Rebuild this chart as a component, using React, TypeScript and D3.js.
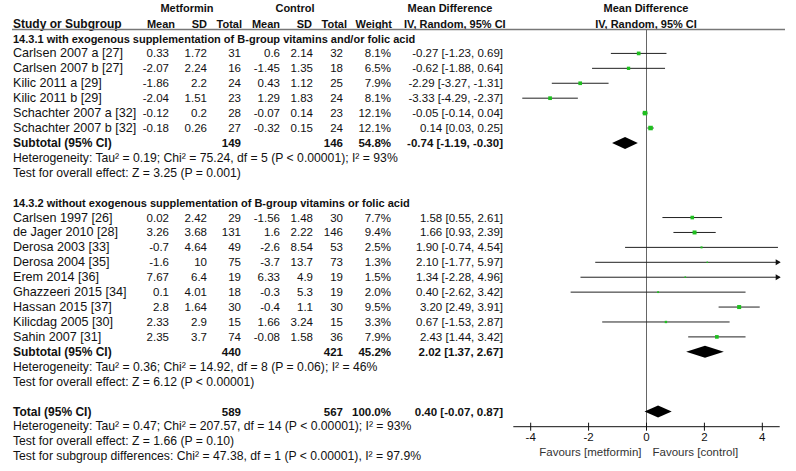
import React, { useRef, useEffect } from 'react';
import * as d3 from 'd3';

// group 1: with exogenous supplementation
const names1 = ['Carlsen 2007 a [27]', 'Carlsen 2007 b [27]', 'Kilic 2011 a [29]', 'Kilic 2011 b [29]', 'Schachter  2007 a [32]', 'Schachter 2007 b [32]'];
const metMean1 = ['0.33', '-2.07', '-1.86', '-2.04', '-0.12', '-0.18'];
const metSd1 = ['1.72', '2.24', '2.2', '1.51', '0.2', '0.26'];
const metN1 = [31, 16, 24, 23, 28, 27];
const conMean1 = ['0.6', '-1.45', '0.43', '1.29', '-0.07', '-0.32'];
const conSd1 = ['2.14', '1.35', '1.12', '1.83', '0.14', '0.15'];
const conN1 = [32, 18, 25, 24, 23, 24];
const weight1 = [8.1, 6.5, 7.9, 8.1, 12.1, 12.1];
const md1 = [-0.27, -0.62, -2.29, -3.33, -0.05, 0.14];
const lo1 = [-1.23, -1.88, -3.27, -4.29, -0.14, 0.03];
const hi1 = [0.69, 0.64, -1.31, -2.37, 0.04, 0.25];

// group 2: without exogenous supplementation
const names2 = ['Carlsen 1997 [26]', 'de Jager 2010 [28]', 'Derosa 2003 [33]', 'Derosa 2004 [35]', 'Erem 2014 [36]', 'Ghazzeeri 2015 [34]', 'Hassan 2015 [37]', 'Kilicdag 2005 [30]', 'Sahin 2007 [31]'];
const metMean2 = ['0.02', '3.26', '-0.7', '-1.6', '7.67', '0.1', '2.8', '2.33', '2.35'];
const metSd2 = ['2.42', '3.68', '4.64', '10', '6.4', '4.01', '1.64', '2.9', '3.7'];
const metN2 = [29, 131, 49, 75, 19, 18, 30, 15, 74];
const conMean2 = ['-1.56', '1.6', '-2.6', '-3.7', '6.33', '-0.3', '-0.4', '1.66', '-0.08'];
const conSd2 = ['1.48', '2.22', '8.54', '13.7', '4.9', '5.3', '1.1', '3.24', '1.58'];
const conN2 = [30, 146, 53, 73, 19, 19, 30, 15, 36];
const weight2 = [7.7, 9.4, 2.5, 1.3, 1.5, 2.0, 9.5, 3.3, 7.9];
const md2 = [1.58, 1.66, 1.90, 2.10, 1.34, 0.40, 3.20, 0.67, 2.43];
const lo2 = [0.55, 0.93, -0.74, -1.77, -2.28, -2.62, 2.49, -1.53, 1.44];
const hi2 = [2.61, 2.39, 4.54, 5.97, 4.96, 3.42, 3.91, 2.87, 3.42];

// pooled estimates: [md, lo, hi]
const sub1 = [-0.74, -1.19, -0.30];
const sub2 = [2.02, 1.37, 2.67];
const total = [0.40, -0.07, 0.87];

const xTicks = [-4, -2, 0, 2, 4];

const fmt2 = (v: number) => v.toFixed(2);
const ciText = (m: number, l: number, h: number) => `${fmt2(m)} [${fmt2(l)}, ${fmt2(h)}]`;

const W = 796;
const H = 471;

const App: React.FC = () => {
  const svgRef = useRef<SVGSVGElement>(null);

  useEffect(() => {
    if (!svgRef.current) return;
    const svg = d3.select(svgRef.current);
    svg.selectAll('*').remove();

    const font = 'Arial, "Liberation Sans", sans-serif';
    const fsHead = 11;
    const fsNum = 11.5;
    const fsName = 12.6;
    const fsNote = 12.2;
    const rowY = (i: number) => 38.5 + i * 14.92;
    const base = 4;

    const x = d3.scaleLinear().domain([-4.6, 4.6]).range([513.3, 779.7]);
    const axisY = 426.7;
    const topY = 29.5;

    // column right edges
    const col = { mean1: 169, sd1: 207, n1: 241, mean2: 280, sd2: 313, n2: 343, w: 391, ci: 503 };

    const txt = (xx: number, yy: number, s: string, anchor = 'start', bold = false, size = fsNum) =>
      svg.append('text')
        .attr('x', xx)
        .attr('y', yy)
        .attr('text-anchor', anchor)
        .attr('font-family', font)
        .attr('font-size', size)
        .attr('font-weight', bold ? 700 : 400)
        .attr('fill', '#111')
        .text(s);

    // headers
    txt(187, 11.5, 'Metformin', 'middle', true, fsHead);
    txt(295, 11.5, 'Control', 'middle', true, fsHead);
    txt(450, 11.5, 'Mean Difference', 'middle', true, fsHead);
    txt(646, 11.5, 'Mean Difference', 'middle', true, fsHead);
    const h2 = 27.5;
    txt(13, h2, 'Study or Subgroup', 'start', true, 12);
    txt(175, h2, 'Mean', 'end', true, fsHead);
    txt(207, h2, 'SD', 'end', true, fsHead);
    txt(242, h2, 'Total', 'end', true, fsHead);
    txt(280, h2, 'Mean', 'end', true, fsHead);
    txt(312, h2, 'SD', 'end', true, fsHead);
    txt(347, h2, 'Total', 'end', true, fsHead);
    txt(392, h2, 'Weight', 'end', true, fsHead);
    txt(404, h2, 'IV, Random, 95% CI', 'start', true, fsHead);
    txt(646, h2, 'IV, Random, 95% CI', 'middle', true, fsHead);

    svg.append('line')
      .attr('x1', 12).attr('x2', 785)
      .attr('y1', topY).attr('y2', topY)
      .attr('stroke', '#777').attr('stroke-width', 1.5);

    // zero line
    svg.append('line')
      .attr('x1', x(0)).attr('x2', x(0))
      .attr('y1', topY).attr('y2', axisY)
      .attr('stroke', '#666').attr('stroke-width', 1);

    const drawStudy = (i: number, name: string, m1: string, s1: string, n1: number, m2: string, s2: string, n2: number,
      w: number, md: number, lo: number, hi: number) => {
      const y = rowY(i);
      txt(13, y + base, name, 'start', false, fsName);
      txt(col.mean1, y + base, m1, 'end');
      txt(col.sd1, y + base, s1, 'end');
      txt(col.n1, y + base, String(n1), 'end');
      txt(col.mean2, y + base, m2, 'end');
      txt(col.sd2, y + base, s2, 'end');
      txt(col.n2, y + base, String(n2), 'end');
      txt(col.w, y + base, `${w.toFixed(1)}%`, 'end');
      txt(col.ci, y + base, ciText(md, lo, hi), 'end');

      const [d0, d1] = x.domain();
      const cl = Math.max(lo, d0);
      const ch = Math.min(hi, d1);
      svg.append('line')
        .attr('x1', x(cl)).attr('x2', x(ch))
        .attr('y1', y).attr('y2', y)
        .attr('stroke', '#222').attr('stroke-width', 1);
      if (hi > d1) {
        const ax = x(d1);
        svg.append('path')
          .attr('d', `M${ax + 1},${y} L${ax - 4},${y - 3} L${ax - 4},${y + 3} Z`)
          .attr('fill', '#111');
      }
      if (lo < d0) {
        const ax = x(d0);
        svg.append('path')
          .attr('d', `M${ax - 1},${y} L${ax + 4},${y - 3} L${ax + 4},${y + 3} Z`)
          .attr('fill', '#111');
      }
      const sz = Math.sqrt(w) * 1.3;
      svg.append('rect')
        .attr('x', x(md) - sz / 2).attr('y', y - sz / 2)
        .attr('width', sz).attr('height', sz)
        .attr('fill', '#1fbf1f');
    };

    const drawDiamond = (y: number, d: number[]) => {
      svg.append('path')
        .attr('d', `M${x(d[1])},${y} L${x(d[0])},${y - 6} L${x(d[2])},${y} L${x(d[0])},${y + 6} Z`)
        .attr('fill', '#000');
    };

    const drawPooled = (i: number, label: string, n1: number, n2: number, w: string, d: number[]) => {
      const y = rowY(i);
      txt(13, y + base, label, 'start', true, 12);
      txt(col.n1, y + base, String(n1), 'end', true);
      txt(col.n2, y + base, String(n2), 'end', true);
      txt(col.w, y + base, w, 'end', true);
      txt(col.ci, y + base, ciText(d[0], d[1], d[2]), 'end', true);
      drawDiamond(y, d);
    };

    const note = (i: number, s: string) => txt(13, rowY(i) + base, s, 'start', false, fsNote);

    // group 1
    txt(13, rowY(0) + base, '14.3.1 with exogenous supplementation of B-group vitamins and/or folic acid', 'start', true, fsHead);
    names1.forEach((n, k) => drawStudy(1 + k, n, metMean1[k], metSd1[k], metN1[k], conMean1[k], conSd1[k], conN1[k], weight1[k], md1[k], lo1[k], hi1[k]));
    drawPooled(7, 'Subtotal (95% CI)', d3.sum(metN1), d3.sum(conN1), '54.8%', sub1);
    note(8, 'Heterogeneity: Tau² = 0.19; Chi² = 75.24, df = 5 (P < 0.00001); I² = 93%');
    note(9, 'Test for overall effect: Z = 3.25 (P = 0.001)');

    // group 2
    txt(13, rowY(11) + base, '14.3.2 without exogenous supplementation of B-group vitamins or folic acid', 'start', true, fsHead);
    names2.forEach((n, k) => drawStudy(12 + k, n, metMean2[k], metSd2[k], metN2[k], conMean2[k], conSd2[k], conN2[k], weight2[k], md2[k], lo2[k], hi2[k]));
    drawPooled(21, 'Subtotal (95% CI)', d3.sum(metN2), d3.sum(conN2), '45.2%', sub2);
    note(22, 'Heterogeneity: Tau² = 0.36; Chi² = 14.92, df = 8 (P = 0.06); I² = 46%');
    note(23, 'Test for overall effect: Z = 6.12 (P < 0.00001)');

    // total
    drawPooled(25, 'Total (95% CI)', d3.sum(metN1) + d3.sum(metN2), d3.sum(conN1) + d3.sum(conN2), '100.0%', total);
    note(26, 'Heterogeneity: Tau² = 0.47; Chi² = 207.57, df = 14 (P < 0.00001); I² = 93%');
    note(27, 'Test for overall effect: Z = 1.66 (P = 0.10)');
    note(28, 'Test for subgroup differences: Chi² = 47.38, df = 1 (P < 0.00001), I² = 97.9%');

    // axis
    const axis = svg.append('g').attr('transform', `translate(0,${axisY})`);
    axis.append('line')
      .attr('x1', x.range()[0]).attr('x2', x.range()[1])
      .attr('y1', 0).attr('y2', 0)
      .attr('stroke', '#111');
    xTicks.forEach(t => {
      axis.append('line')
        .attr('x1', x(t)).attr('x2', x(t))
        .attr('y1', -4).attr('y2', 4)
        .attr('stroke', '#111');
      axis.append('text')
        .attr('x', x(t)).attr('y', 14.5)
        .attr('text-anchor', 'middle')
        .attr('font-family', font).attr('font-size', fsNum)
        .attr('fill', '#111')
        .text(String(t));
    });
    axis.append('text')
      .attr('x', x(0) - 5).attr('y', 29)
      .attr('text-anchor', 'end')
      .attr('font-family', font).attr('font-size', fsNum)
      .attr('fill', '#333')
      .text('Favours [metformin]');
    axis.append('text')
      .attr('x', x(0) + 6).attr('y', 29)
      .attr('text-anchor', 'start')
      .attr('font-family', font).attr('font-size', fsNum)
      .attr('fill', '#333')
      .text('Favours [control]');
  }, []);

  return (
    <svg ref={svgRef} width={W} height={H}
      style={{ position: 'absolute', left: 0, top: 0, background: '#fff' }} />
  );
};

export default App;
